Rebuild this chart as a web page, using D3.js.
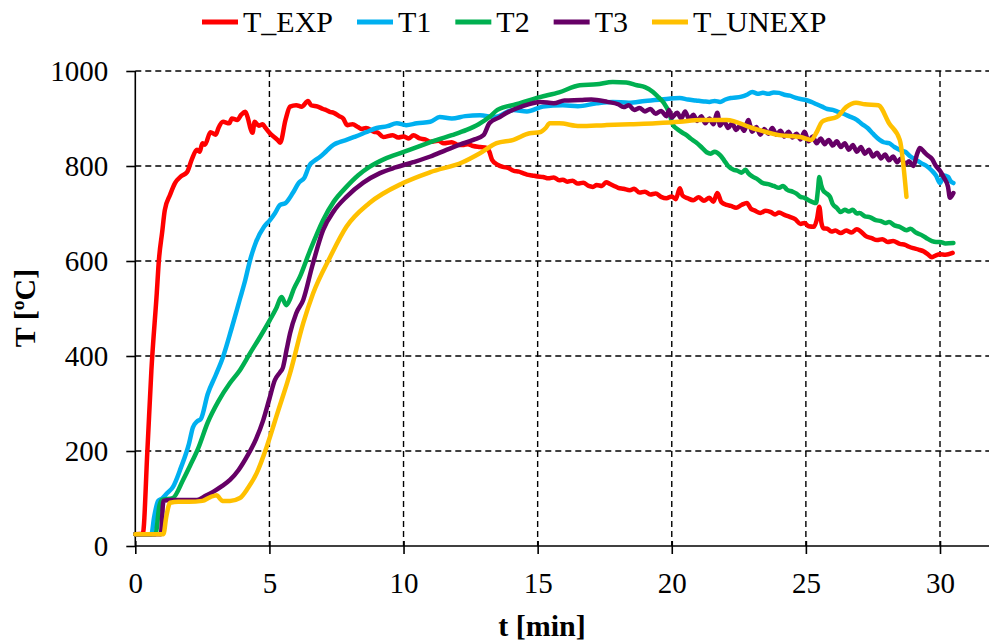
<!DOCTYPE html>
<html>
<head>
<meta charset="utf-8">
<script src="https://cdn.jsdelivr.net/npm/d3@7"></script>
<style>
  html, body { margin: 0; padding: 0; background: #fff; }
  svg { display: block; }
  text { font-family: "Liberation Serif", "Times New Roman", serif; fill: #000; }
</style>
</head>
<body>
<svg id="chart" width="989" height="643"></svg>
<script>
// Temperature records of the fire test: time in minutes, temperature in °C
const seriesNames = ["T_EXP", "T1", "T2", "T3", "T_UNEXP"];
const seriesColors = ["#FF0000", "#00B0F0", "#00B050", "#660066", "#FFC000"];

const tExp = [0, 0.28, 0.45, 0.6, 0.8, 0.88, 1.0, 1.1, 1.3, 1.48, 1.7, 1.93, 2.1, 2.3, 2.4, 2.5, 2.6, 2.8, 3.0, 3.1, 3.27, 3.5, 3.6, 3.8, 3.95, 4.1, 4.2, 4.3, 4.37, 4.45, 4.6, 4.75, 4.83, 5.0, 5.3, 5.4, 5.6, 5.77, 6.0, 6.2, 6.44, 6.55, 6.8, 7.0, 7.1, 7.25, 7.4, 7.6, 7.75, 7.9, 8.1, 8.3, 8.45, 8.6, 8.9, 9.05, 9.24, 9.6, 9.8, 10.0, 10.2, 10.37, 10.6, 10.8, 11.0, 11.3, 11.5, 11.8, 12.0, 12.2, 12.4, 12.6, 12.85, 13.1, 13.2, 13.3, 13.5, 13.7, 13.9, 14.1, 14.3, 14.45, 14.6, 14.8, 15.0, 15.2, 15.4, 15.6, 15.8, 15.94, 16.1, 16.3, 16.5, 16.7, 16.9, 17.06, 17.2, 17.4, 17.55, 17.7, 17.85, 18.0, 18.2, 18.44, 18.6, 18.8, 19.0, 19.2, 19.4, 19.6, 19.8, 20.0, 20.15, 20.3, 20.4, 20.6, 20.8, 21.0, 21.2, 21.4, 21.55, 21.7, 21.85, 22.05, 22.2, 22.4, 22.6, 22.8, 22.95, 23.1, 23.3, 23.5, 23.7, 23.85, 24.0, 24.2, 24.4, 24.6, 24.8, 24.95, 25.1, 25.3, 25.42, 25.5, 25.58, 25.65, 25.8, 25.95, 26.1, 26.3, 26.5, 26.7, 26.9, 27.05, 27.25, 27.45, 27.65, 27.85, 28.05, 28.25, 28.5, 28.7, 28.85, 29.0, 29.2, 29.4, 29.55, 29.7, 29.85, 30.0, 30.2, 30.47];
const vExp = [25, 26, 200, 370, 532, 602, 660, 707, 740, 764, 778, 787, 813, 834, 830, 848, 845, 871, 866, 880, 893, 890, 900, 897, 908, 914, 900, 878, 870, 893, 885, 888, 882, 870, 855, 849, 897, 925, 928, 925, 937, 928, 925, 920, 918, 914, 912, 905, 900, 886, 888, 882, 878, 880, 872, 870, 861, 865, 860, 862, 858, 865, 858, 856, 851, 853, 848, 850, 845, 844, 846, 842, 840, 838, 830, 813, 803, 798, 796, 790, 788, 785, 782, 780, 778, 777, 774, 776, 770, 771, 767, 769, 763, 765, 758, 756, 760, 758, 766, 762, 758, 754, 752, 749, 752, 744, 746, 740, 742, 735, 732, 736, 730, 753, 738, 732, 728, 734, 727, 733, 725, 743, 724, 718, 716, 712, 718, 722, 710, 706, 701, 706, 703, 698, 702, 697, 693, 688, 678, 680, 673, 672, 690, 714, 680, 669, 668, 662, 664, 659, 664, 660, 667, 662, 652, 648, 644, 646, 640, 642, 636, 634, 630, 627, 624, 620, 614, 608, 612, 614, 613, 617];

const t1 = [0, 0.6, 0.7, 0.85, 1.0, 1.2, 1.4, 1.7, 2.0, 2.15, 2.3, 2.45, 2.7, 3.0, 3.27, 3.6, 3.9, 4.1, 4.28, 4.5, 4.8, 5.02, 5.2, 5.4, 5.6, 5.87, 6.1, 6.3, 6.5, 6.7, 6.88, 7.1, 7.4, 7.6, 7.87, 8.2, 8.6, 9.0, 9.4, 9.75, 10.1, 10.5, 11.0, 11.35, 11.8, 12.3, 12.85, 13.4, 14.1, 14.6, 15.2, 15.94, 16.5, 17.2, 17.8, 18.4, 19.0, 19.6, 20.3, 20.6, 20.9, 21.2, 21.4, 21.6, 21.8, 22.0, 22.2, 22.4, 22.6, 22.8, 23.0, 23.2, 23.4, 23.6, 23.8, 24.0, 24.2, 24.4, 24.6, 24.8, 25.0, 25.2, 25.4, 25.6, 25.8, 26.0, 26.2, 26.4, 26.6, 26.9, 27.1, 27.3, 27.5, 27.75, 27.9, 28.1, 28.3, 28.5, 28.7, 28.9, 29.1, 29.3, 29.5, 29.7, 29.85, 30.0, 30.15, 30.3, 30.4, 30.5];
const v1 = [25, 25, 60, 95, 100, 112, 124, 165, 215, 250, 262, 268, 320, 360, 398, 460, 520, 560, 602, 640, 672, 686, 700, 718, 722, 743, 765, 775, 802, 812, 819, 830, 845, 850, 855, 862, 871, 880, 884, 890, 886, 890, 893, 903, 900, 905, 907, 903, 918, 915, 925, 928, 926, 932, 935, 933, 937, 940, 943, 940, 938, 936, 935, 937, 935, 940, 943, 944, 946, 950, 956, 952, 954, 952, 955, 954, 950, 948, 944, 941, 939, 935, 930, 925, 920, 918, 914, 910, 905, 897, 888, 880, 868, 855, 850, 848, 840, 834, 830, 820, 813, 806, 800, 790, 780, 764, 780, 777, 768, 764];

const t2 = [0, 0.75, 0.9, 1.0, 1.4, 1.78, 2.05, 2.34, 2.7, 3.1, 3.53, 3.9, 4.28, 4.65, 5.02, 5.25, 5.45, 5.63, 5.77, 5.9, 6.13, 6.5, 7.0, 7.4, 7.87, 8.3, 8.73, 9.3, 9.98, 10.6, 11.25, 11.8, 12.35, 12.8, 13.2, 13.5, 14.2, 15.08, 15.8, 16.57, 17.2, 17.8, 18.3, 18.7, 19.0, 19.3, 19.5, 19.7, 19.9, 20.05, 20.2, 20.4, 20.55, 20.7, 20.9, 21.1, 21.3, 21.45, 21.6, 21.8, 21.95, 22.1, 22.3, 22.45, 22.6, 22.75, 22.85, 23.0, 23.2, 23.4, 23.6, 23.8, 24.0, 24.15, 24.3, 24.5, 24.65, 24.8, 24.95, 25.1, 25.25, 25.38, 25.45, 25.5, 25.57, 25.65, 25.75, 25.9, 26.0, 26.15, 26.3, 26.45, 26.6, 26.75, 26.9, 27.0, 27.2, 27.4, 27.6, 27.8, 27.95, 28.1, 28.3, 28.5, 28.75, 28.9, 29.1, 29.3, 29.5, 29.7, 29.85, 30.0, 30.2, 30.5];
const v2 = [25, 25, 85, 97, 101, 139, 170, 205, 260, 305, 343, 370, 406, 440, 476, 500, 524, 507, 520, 540, 566, 620, 686, 725, 756, 780, 798, 815, 829, 842, 855, 865, 876, 888, 903, 918, 930, 945, 955, 970, 972, 977, 976, 970, 966, 956, 945, 933, 912, 886, 878, 870, 865, 858, 850, 840, 829, 826, 830, 823, 812, 800, 792, 790, 786, 792, 785, 778, 772, 764, 762, 758, 754, 758, 750, 746, 742, 735, 733, 728, 724, 722, 750, 777, 760, 748, 743, 735, 720, 712, 703, 708, 704, 708, 700, 701, 694, 692, 686, 684, 680, 682, 675, 672, 665, 668, 660, 655, 648, 642, 640, 640, 637, 638];

const t3 = [0, 0.95, 1.05, 1.3, 1.8, 2.3, 2.6, 2.9, 3.2, 3.53, 3.85, 4.15, 4.5, 4.77, 5.0, 5.2, 5.4, 5.5, 5.64, 5.77, 6.0, 6.26, 6.6, 7.0, 7.4, 7.87, 8.5, 9.12, 9.7, 10.36, 11.0, 11.6, 12.1, 12.6, 12.98, 13.2, 13.59, 13.85, 14.4, 15.1, 15.6, 16.0, 16.6, 17.0, 17.6, 18.0, 18.2, 18.4, 18.6, 18.8, 19.0, 19.2, 19.4, 19.6, 19.8, 19.9, 20.0, 20.2, 20.35, 20.5, 20.65, 20.8, 20.95, 21.1, 21.25, 21.4, 21.55, 21.7, 21.8, 21.95, 22.1, 22.25, 22.4, 22.55, 22.7, 22.85, 23.0, 23.15, 23.3, 23.45, 23.6, 23.75, 23.9, 24.05, 24.2, 24.35, 24.5, 24.65, 24.8, 24.95, 25.1, 25.25, 25.4, 25.55, 25.7, 25.85, 26.0, 26.15, 26.3, 26.45, 26.6, 26.75, 26.9, 27.05, 27.2, 27.35, 27.5, 27.65, 27.8, 27.95, 28.1, 28.25, 28.4, 28.55, 28.7, 28.85, 29.0, 29.15, 29.25, 29.4, 29.55, 29.7, 29.85, 30.0, 30.15, 30.3, 30.37, 30.5];
const v3 = [25, 25, 95, 97, 97, 97, 105, 114, 125, 139, 160, 187, 225, 265, 310, 349, 366, 375, 413, 448, 490, 518, 590, 665, 705, 735, 765, 785, 797, 808, 820, 834, 845, 855, 865, 890, 903, 912, 925, 935, 932, 938, 939, 940, 935, 930, 924, 928, 918, 922, 915, 920, 910, 916, 905, 918, 902, 912, 900, 915, 898, 908, 895, 905, 890, 900, 888, 912, 885, 895, 880, 890, 876, 886, 874, 897, 872, 882, 866, 878, 868, 880, 866, 874, 862, 872, 860, 868, 856, 872, 852, 862, 848, 858, 846, 855, 843, 852, 840, 848, 834, 844, 830, 840, 826, 834, 820, 828, 816, 824, 812, 820, 808, 816, 804, 810, 800, 826, 838, 830, 822, 815, 800, 790, 775, 756, 733, 743];

const tUnexp = [0, 1.05, 1.15, 1.3, 1.6, 2.0, 2.5, 2.8, 3.04, 3.15, 3.25, 3.53, 3.9, 4.2, 4.53, 4.9, 5.3, 5.77, 6.26, 6.63, 7.26, 7.87, 8.73, 9.98, 11.0, 12.2, 12.85, 13.47, 14.1, 14.7, 15.08, 15.3, 15.45, 15.8, 16.57, 17.5, 18.44, 19.4, 20.3, 21.05, 22.05, 23.0, 24.0, 24.8, 25.2, 25.4, 25.6, 25.8, 26.15, 26.5, 26.87, 27.2, 27.7, 28.1, 28.5, 28.75];
const vUnexp = [25, 25, 60, 91, 93, 93, 95, 103, 107, 100, 95, 95, 101, 122, 154, 209, 280, 364, 469, 532, 608, 672, 722, 764, 787, 808, 827, 848, 855, 869, 871, 880, 890, 890, 884, 886, 888, 890, 893, 897, 897, 880, 865, 861, 855, 871, 893, 898, 903, 924, 933, 930, 928, 890, 855, 735];

const xTicks = [0, 5, 10, 15, 20, 25, 30];
const yTicks = [0, 200, 400, 600, 800, 1000];

const seriesTimes = [tExp, t1, t2, t3, tUnexp];
const seriesValues = [vExp, v1, v2, v3, vUnexp];

const svg = d3.select("#chart");
const W = 989, H = 643;
const plotLeft = 135.3, plotTop = 71, plotBottom = 546;

const x = d3.scaleLinear().domain([0, 30]).range([plotLeft, 940]);
const y = d3.scaleLinear().domain([0, 1000]).range([plotBottom, plotTop]);

svg.append("rect").attr("width", W).attr("height", H).attr("fill", "#fff");

// dashed grid
const grid = svg.append("g").attr("stroke", "#000").attr("stroke-width", 1.4)
  .attr("stroke-dasharray", "6,4").attr("fill", "none");
yTicks.filter(d => d > 0).forEach(d => {
  grid.append("line").attr("x1", plotLeft).attr("x2", W).attr("y1", y(d)).attr("y2", y(d));
});
xTicks.filter(d => d > 0).forEach(d => {
  grid.append("line").attr("x1", x(d)).attr("x2", x(d)).attr("y1", plotTop).attr("y2", plotBottom);
});

// axes
const yAxis = d3.axisLeft(y).tickValues(yTicks).tickSize(9).tickPadding(18).tickFormat(d3.format("d"));
const gy = svg.append("g").attr("transform", `translate(${plotLeft},0)`).call(yAxis);
gy.select(".domain").attr("stroke", "#000").attr("stroke-width", 1.6).attr("d", `M0,${plotTop}V${plotBottom}`);
gy.selectAll(".tick line").attr("stroke", "#000").attr("stroke-width", 1.6);
gy.selectAll(".tick text").attr("font-size", 29).attr("font-family", "Liberation Serif").attr("dy", "0.34em");

const xAxis = d3.axisBottom(x).tickValues(xTicks).tickSize(8).tickPadding(18).tickFormat(d3.format("d"));
const gx = svg.append("g").attr("transform", `translate(0,${plotBottom})`).call(xAxis);
gx.select(".domain").attr("stroke", "#000").attr("stroke-width", 1.6).attr("d", `M${plotLeft},0H${W}`);
gx.selectAll(".tick line").attr("stroke", "#000").attr("stroke-width", 1.6).attr("y1", -5);
gx.selectAll(".tick text").attr("font-size", 29).attr("font-family", "Liberation Serif").attr("dy", "0.71em");

// series lines
const line = d3.line().curve(d3.curveMonotoneX).x(d => x(d[0])).y(d => y(d[1]));
seriesNames.forEach((name, i) => {
  const pts = seriesTimes[i].map((t, k) => [t, seriesValues[i][k]]);
  svg.append("path").datum(pts)
    .attr("fill", "none")
    .attr("stroke", seriesColors[i])
    .attr("stroke-width", 4.5)
    .attr("stroke-linejoin", "round")
    .attr("stroke-linecap", "round")
    .attr("d", line);
});

// legend
const legend = svg.append("g");
let lx = 202;
seriesNames.forEach((name, i) => {
  legend.append("line").attr("x1", lx).attr("x2", lx + 36).attr("y1", 22).attr("y2", 22)
    .attr("stroke", seriesColors[i]).attr("stroke-width", 5);
  const txt = legend.append("text").attr("x", lx + 41).attr("y", 32)
    .attr("font-size", 30).text(name);
  lx += 41 + txt.node().getComputedTextLength() + 24;
});

// axis titles
svg.append("text").attr("x", 542).attr("y", 636).attr("text-anchor", "middle")
  .attr("font-size", 30).attr("font-weight", "bold").text("t [min]");
svg.append("text").attr("transform", "translate(35,308) rotate(-90)").attr("text-anchor", "middle")
  .attr("font-size", 30).attr("font-weight", "bold").text("T [ºC]");
</script>
</body>
</html>
